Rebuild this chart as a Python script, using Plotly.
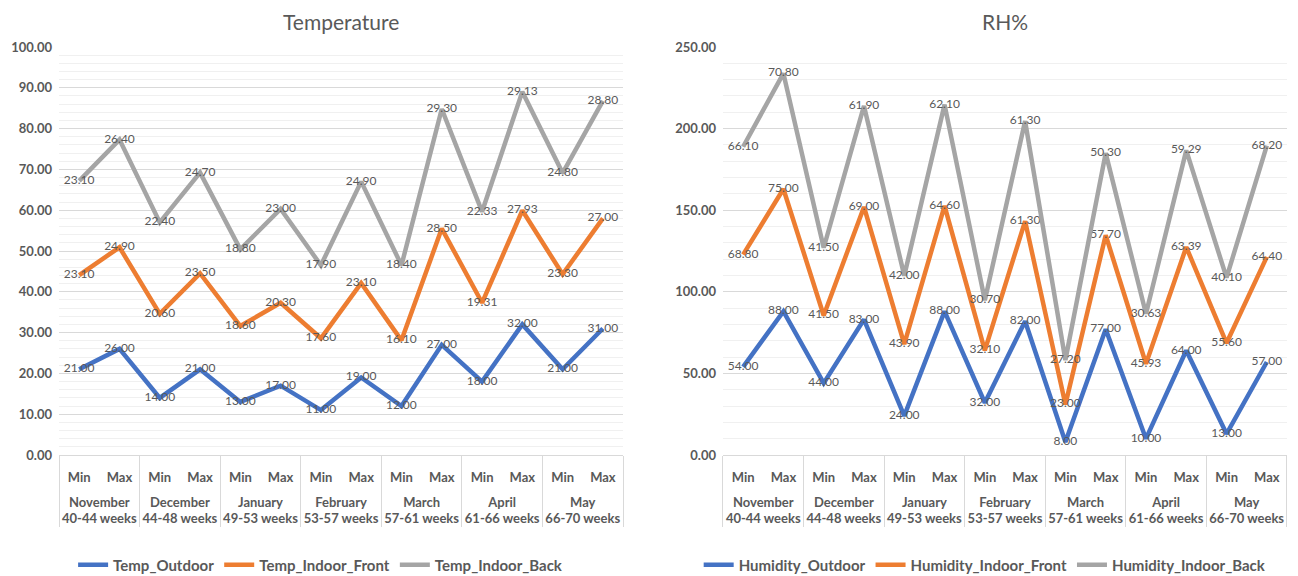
import plotly.graph_objects as go
from plotly.subplots import make_subplots

months = ["November", "December", "January", "February", "March", "April", "May"]
weeks = ["40-44 weeks", "44-48 weeks", "49-53 weeks", "53-57 weeks", "57-61 weeks", "61-66 weeks", "66-70 weeks"]
levels = ["Min", "Max"]

temp_outdoor = [21, 26, 14, 21, 13, 17, 11, 19, 12, 27, 18, 32, 21, 31]
temp_front = [23.10, 24.90, 20.60, 23.50, 18.60, 20.30, 17.60, 23.10, 16.10, 28.50, 19.31, 27.93, 23.30, 27.00]
temp_back = [23.10, 26.40, 22.40, 24.70, 18.80, 23.00, 17.90, 24.90, 18.40, 29.30, 22.33, 29.13, 24.80, 28.80]

rh_outdoor = [54, 88, 44, 83, 24, 88, 32, 82, 8, 77, 10, 64, 13, 57]
rh_front = [68.80, 75.00, 41.50, 69.00, 43.90, 64.60, 32.10, 61.30, 23.00, 57.70, 45.93, 63.39, 55.60, 64.40]
rh_back = [66.10, 70.80, 41.50, 61.90, 42.00, 62.10, 30.70, 61.30, 27.20, 50.30, 30.63, 59.29, 40.10, 68.20]

outer, inner = [], []
for m, w in zip(months, weeks):
    for l in levels:
        outer.append(f"<br>{m}<br>{w}")
        inner.append(l)
xcat = [outer, inner]

FONT = "Lato"
GRAY = "#595959"
colors = ["#4472C4", "#ED7D31", "#A5A5A5"]

fig = make_subplots(rows=1, cols=2)

def add_series(names, series, col, legend, group):
    for name, vals, c in zip(names, series, colors):
        fig.add_trace(go.Scatter(
            x=xcat, y=vals, name=name, mode="lines+text",
            stackgroup=group, fill="none",
            line=dict(color=c, width=4.5),
            text=[f"{v:.2f}" for v in vals], textposition="middle center",
            textfont=dict(family=FONT, size=12, color=GRAY),
            legend=legend, cliponaxis=False,
        ), row=1, col=col)

add_series(["Temp_Outdoor", "Temp_Indoor_Front", "Temp_Indoor_Back"],
           [temp_outdoor, temp_front, temp_back], 1, "legend", "t")
add_series(["Humidity_Outdoor", "Humidity_Indoor_Front", "Humidity_Indoor_Back"],
           [rh_outdoor, rh_front, rh_back], 2, "legend2", "h")

xax = dict(type="multicategory", range=[-0.5, 13.5], showline=True, linecolor="#D9D9D9",
           linewidth=1, showdividers=True, dividercolor="#D9D9D9", dividerwidth=1,
           tickfont=dict(family=FONT, size=13, color=GRAY, weight="bold"), showgrid=False,
           ticks="", automargin=False, ticklabelstandoff=10)
fig.update_xaxes(**xax)
fig.update_xaxes(domain=[0.0455, 0.48], row=1, col=1)
fig.update_xaxes(domain=[0.557, 0.9915], row=1, col=2)

yax = dict(domain=[1 - 455 / 576, 1 - 47 / 576], tickformat=".2f", gridcolor="#D9D9D9", gridwidth=1,
           tickfont=dict(family=FONT, size=13, color=GRAY, weight="bold"),
           zeroline=False, showline=False, ticks="", automargin=False, ticklabelstandoff=6)
fig.update_yaxes(**yax)
fig.update_yaxes(range=[0, 100], dtick=10,
                 minor=dict(dtick=2, showgrid=True, gridcolor="#F0F0F0", gridwidth=1),
                 row=1, col=1)
fig.update_yaxes(range=[0, 250], dtick=50,
                 minor=dict(dtick=10, showgrid=True, gridcolor="#F0F0F0", gridwidth=1),
                 row=1, col=2)

legend_common = dict(orientation="h", xanchor="center", yanchor="middle", y=1 - 565 / 576,
                     font=dict(family=FONT, size=15, color=GRAY, weight="bold"),
                     itemwidth=30, bgcolor="rgba(0,0,0,0)")
fig.update_layout(
    width=1298, height=576, margin=dict(l=0, r=0, t=0, b=0, autoexpand=False),
    paper_bgcolor="white", plot_bgcolor="white",
    legend=dict(x=0.247, **legend_common),
    legend2=dict(x=0.759, **legend_common),
    annotations=[
        dict(text="Temperature", x=0.263, y=1 - 22 / 576, xref="paper", yref="paper",
             xanchor="center", yanchor="middle",
             showarrow=False, font=dict(family=FONT, size=21, color=GRAY)),
        dict(text="RH%", x=0.774, y=1 - 22 / 576, xref="paper", yref="paper",
             xanchor="center", yanchor="middle",
             showarrow=False, font=dict(family=FONT, size=21, color=GRAY)),
    ],
)

fig.write_html("out.html")
